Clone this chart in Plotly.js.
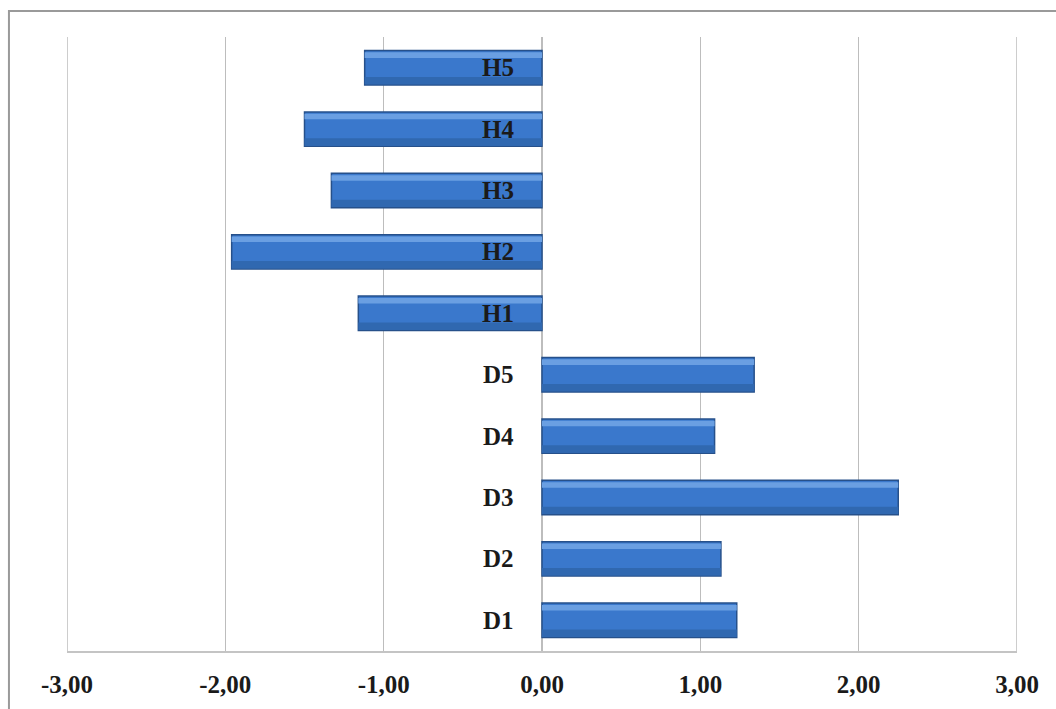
<!DOCTYPE html>
<html>
<head>
<meta charset="utf-8">
<script src="https://cdn.plot.ly/plotly-3.0.1.min.js"></script>
<style>html,body{margin:0;padding:0;background:#fff;}#chart{width:1056px;height:709px;}</style>
</head>
<body>
<div id="chart"></div>
<script>
// Categories from bottom to top
const categories = ["D1", "D2", "D3", "D4", "D5", "H1", "H2", "H3", "H4", "H5"];
const values = [1.23, 1.13, 2.25, 1.09, 1.34, -1.16, -1.96, -1.33, -1.50, -1.12];
const tickValues = [-3, -2, -1, 0, 1, 2, 3];
const tickLabels = ["-3,00", "-2,00", "-1,00", "0,00", "1,00", "2,00", "3,00"];

const serif = "'Liberation Serif', 'Times New Roman', serif";

const base = {
  type: "bar", orientation: "h", x: values, y: categories,
  width: 0.56, offset: -0.28,
  marker: { color: "#3a78cc", line: { color: "#26508a", width: 1.5 } },
  hoverinfo: "x+y", showlegend: false
};
const shade = {
  type: "bar", orientation: "h", x: values, y: categories,
  width: 0.12, offset: -0.27,
  marker: { color: "#3068b0", line: { width: 0 } },
  hoverinfo: "skip", showlegend: false
};
const highlight = {
  type: "bar", orientation: "h", x: values, y: categories,
  width: 0.09, offset: 0.16,
  marker: { color: "#6a9fe2", line: { width: 0 } },
  hoverinfo: "skip", showlegend: false
};

const annotations = categories.map((c) => ({
  x: 0, y: c, xref: "x", yref: "y", text: c, showarrow: false,
  xanchor: "right", yanchor: "middle", xshift: -26,
  font: { family: serif, size: 25, color: "#1a1a1a", weight: "bold" }
}));

const xMin = tickValues[0], xMax = tickValues[tickValues.length - 1];
const edgeGrid = [xMin, xMax].map((v) => ({
  type: "line", xref: "x", yref: "paper", x0: v, x1: v, y0: 0, y1: 1,
  line: { color: "#bdbdbd", width: 1.5 }, layer: "below"
}));

const layout = {
  width: 1056, height: 709,
  margin: { l: 67, r: 39, t: 37, b: 58 },
  paper_bgcolor: "#ffffff", plot_bgcolor: "#ffffff",
  barmode: "overlay",
  showlegend: false,
  xaxis: {
    range: [xMin, xMax], tickvals: tickValues, ticktext: tickLabels,
    showgrid: true, gridcolor: "#bdbdbd", gridwidth: 1.5,
    zeroline: false, showline: true, linecolor: "#c4c4c4", linewidth: 1.5,
    ticks: "", ticklabelstandoff: 10,
    tickfont: { family: serif, size: 25, color: "#1a1a1a", weight: "bold" },
    fixedrange: true
  },
  yaxis: {
    type: "category", categoryorder: "array", categoryarray: categories,
    range: [-0.5, 9.5], showticklabels: false, showgrid: false,
    zeroline: false, showline: false, ticks: "", fixedrange: true
  },
  annotations: annotations,
  shapes: [{
    type: "rect", xref: "paper", yref: "paper",
    x0: -0.0611, x1: 1.08, y0: -0.15, y1: 1.0423,
    line: { color: "#9a9a9a", width: 2 }, fillcolor: "rgba(0,0,0,0)", layer: "below"
  }].concat(edgeGrid)
};

Plotly.newPlot("chart", [base, shade, highlight], layout, { displayModeBar: false, staticPlot: true });
</script>
</body>
</html>
